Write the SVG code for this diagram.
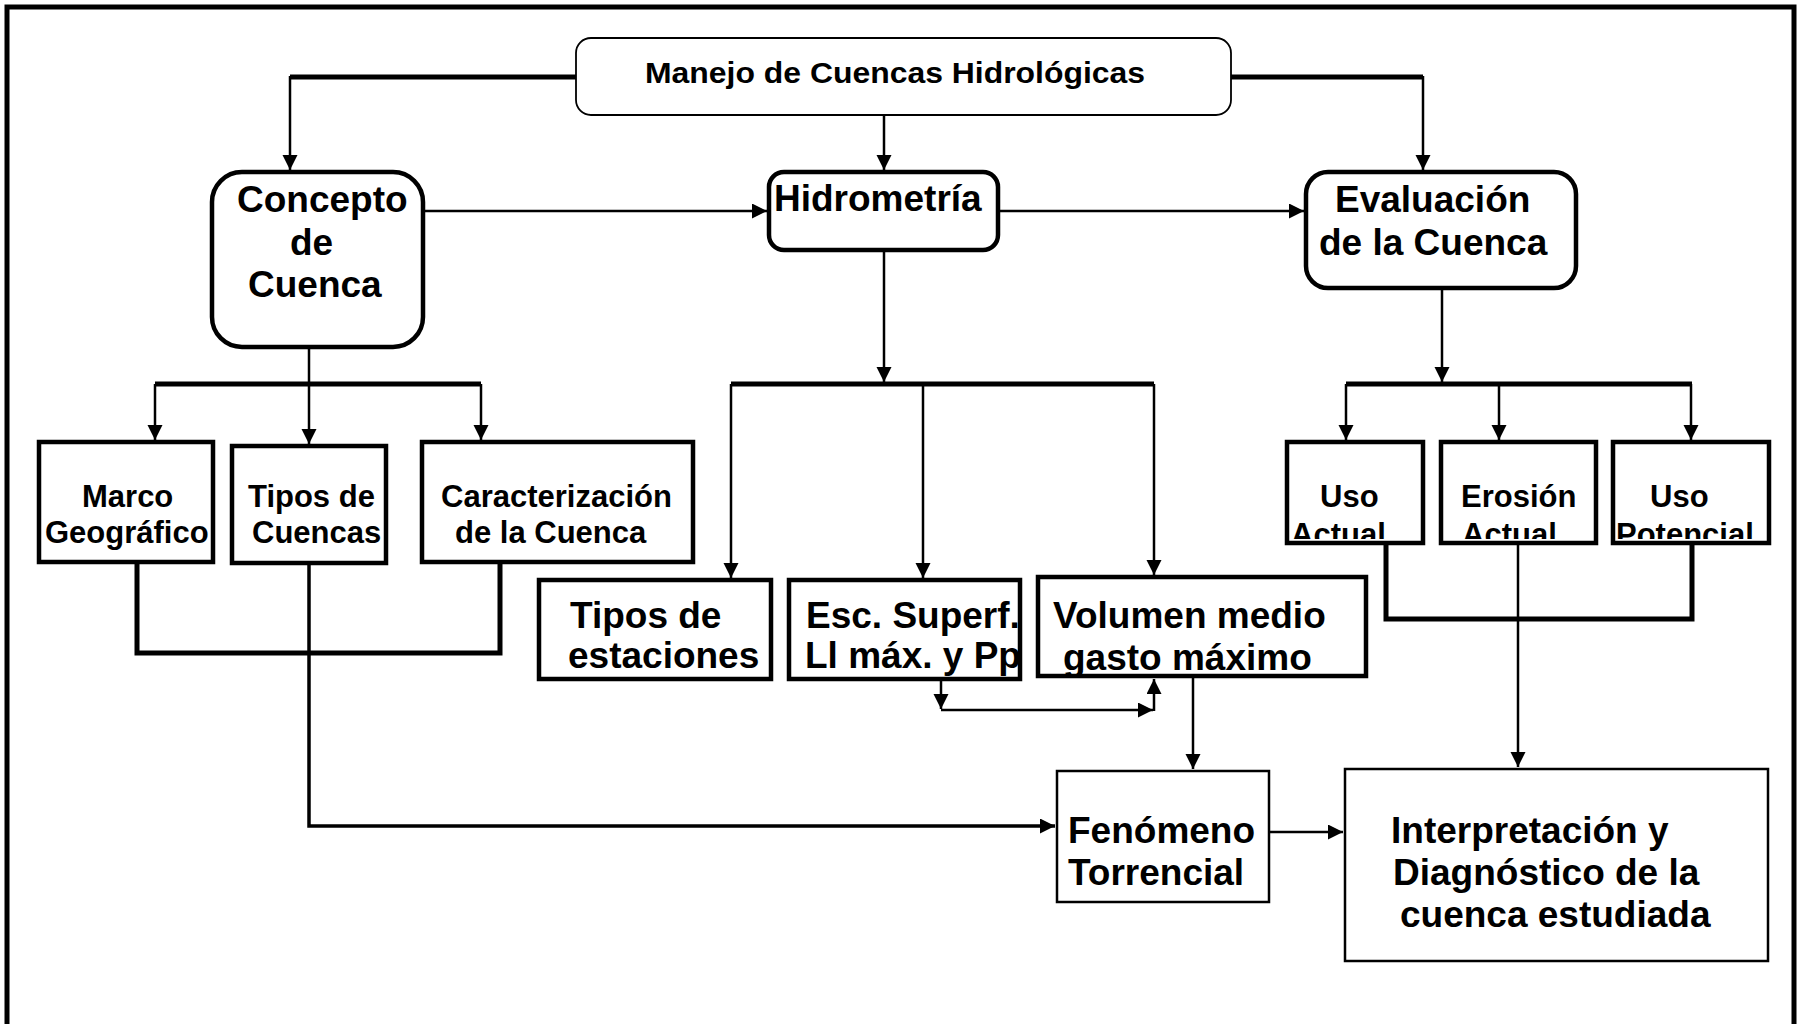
<svg xmlns="http://www.w3.org/2000/svg" width="1807" height="1024" viewBox="0 0 1807 1024">
<style>
.t{font-family:"Liberation Sans",Arial,sans-serif;font-weight:bold;fill:#000}
.s37{font-size:37px}.s31{font-size:31px}
.bx{fill:#fff;stroke:#000;stroke-width:4.5}
.bt{fill:#fff;stroke:#000;stroke-width:2.5}
.c{fill:none;stroke:#000;stroke-width:2.5}
.k{fill:none;stroke:#000;stroke-width:5}
.a{marker-end:url(#ah)}
</style>
<defs>
<marker id="ah" markerUnits="userSpaceOnUse" markerWidth="16" markerHeight="16" refX="15" refY="7.5" orient="auto">
<path d="M0,0 L15,7.5 L0,15 Z" fill="#000"/>
</marker>
<clipPath id="cUA"><rect x="1287" y="442" width="136" height="97"/></clipPath>
<clipPath id="cEA"><rect x="1441" y="442" width="155" height="97"/></clipPath>
<clipPath id="cUP"><rect x="1613" y="442" width="156" height="97"/></clipPath>
<clipPath id="cES"><rect x="789" y="580" width="229" height="97"/></clipPath>
</defs>
<rect x="0" y="0" width="1807" height="1024" fill="#fff"/>
<path d="M7,1024 V7 H1794 V1024" fill="none" stroke="#000" stroke-width="5"/>

<g id="n-manejo">
<rect x="576" y="38" width="655" height="77" rx="15" fill="#fff" stroke="#000" stroke-width="1.8"/>
<text class="t" x="645" y="83" font-size="29" textLength="500" lengthAdjust="spacingAndGlyphs">Manejo de Cuencas Hidrológicas</text>
</g>
<g id="n-concepto">
<rect class="bx" x="212" y="172" width="211" height="175" rx="30"/>
<text class="t s37" x="237" y="212">Concepto</text>
<text class="t s37" x="290" y="255">de</text>
<text class="t s37" x="248" y="297">Cuenca</text>
</g>
<g id="n-hidrometria">
<rect class="bx" x="769" y="172" width="229" height="78" rx="15"/>
<text class="t s37" x="774" y="211">Hidrometría</text>
</g>
<g id="n-evaluacion">
<rect class="bx" x="1306" y="172" width="270" height="116" rx="22"/>
<text class="t s37" x="1335" y="212">Evaluación</text>
<text class="t s37" x="1319" y="255">de la Cuenca</text>
</g>
<g id="n-marco">
<rect class="bx" x="39" y="442" width="174" height="120"/>
<text class="t s31" x="82" y="507">Marco</text>
<text class="t s31" x="45" y="543">Geográfico</text>
</g>
<g id="n-tipos-cuencas">
<rect class="bx" x="232" y="446" width="154" height="117"/>
<text class="t s31" x="248" y="507">Tipos de</text>
<text class="t s31" x="252" y="543">Cuencas</text>
</g>
<g id="n-caracterizacion">
<rect class="bx" x="422" y="442" width="271" height="120"/>
<text class="t s31" x="441" y="507">Caracterización</text>
<text class="t s31" x="455" y="543">de la Cuenca</text>
</g>
<g id="n-tipos-estaciones">
<rect class="bx" x="539" y="580" width="232" height="99"/>
<text class="t s37" x="570" y="628">Tipos de</text>
<text class="t s37" x="568" y="668">estaciones</text>
</g>
<g id="n-esc">
<rect class="bx" x="789" y="580" width="231" height="99"/>
<g clip-path="url(#cES)">
<text class="t s37" x="806" y="628">Esc. Superf.</text>
<text class="t s37" x="805" y="668">Ll máx. y Pp</text>
</g>
</g>
<g id="n-volumen">
<rect class="bx" x="1038" y="577" width="328" height="99"/>
<text class="t s37" x="1053" y="628">Volumen medio</text>
<text class="t s37" x="1063" y="670">gasto máximo</text>
</g>
<g id="n-uso-actual">
<rect class="bx" x="1287" y="442" width="136" height="101"/>
<g clip-path="url(#cUA)">
<text class="t s31" x="1320" y="507">Uso</text>
<text class="t s31" x="1291" y="545">Actual</text>
</g>
</g>
<g id="n-erosion">
<rect class="bx" x="1441" y="442" width="155" height="101"/>
<g clip-path="url(#cEA)">
<text class="t s31" x="1461" y="507">Erosión</text>
<text class="t s31" x="1462" y="545">Actual</text>
</g>
</g>
<g id="n-uso-potencial">
<rect class="bx" x="1613" y="442" width="156" height="101"/>
<g clip-path="url(#cUP)">
<text class="t s31" x="1650" y="507">Uso</text>
<text class="t s31" x="1616" y="545">Potencial</text>
</g>
</g>
<g id="n-fenomeno">
<rect class="bt" x="1057" y="771" width="212" height="131"/>
<text class="t s37" x="1068" y="843">Fenómeno</text>
<text class="t s37" x="1068" y="885">Torrencial</text>
</g>
<g id="n-interpretacion">
<rect class="bt" x="1345" y="769" width="423" height="192"/>
<text class="t s37" x="1391" y="843">Interpretación y</text>
<text class="t s37" x="1393" y="885">Diagnóstico de la</text>
<text class="t s37" x="1400" y="927">cuenca estudiada</text>
</g>

<g id="connectors">
<path class="k" d="M576,77 H290"/>
<path class="c a" d="M290,76 V170"/>
<path class="c a" d="M884,115 V170"/>
<path class="k" d="M1231,77 H1423"/>
<path class="c a" d="M1423,76 V170"/>
<path class="c a" d="M423,211 H767"/>
<path class="c a" d="M998,211 H1304"/>
<path class="c" d="M309,347 V384"/>
<path class="k" d="M155,384 H481"/>
<path class="c a" d="M155,384 V440"/>
<path class="c a" d="M309,384 V444"/>
<path class="c a" d="M481,384 V440"/>
<path class="k" d="M137,562 V653 H500 V562"/>
<path class="c a" d="M309,563 V826 H1055" style="stroke-width:3.5"/>
<path class="c a" d="M884,250 V382"/>
<path class="k" d="M731,384 H1154"/>
<path class="c a" d="M731,384 V578"/>
<path class="c a" d="M923,384 V578"/>
<path class="c a" d="M1154,384 V575"/>
<path class="c a" d="M941,679 V709"/>
<path class="c a" d="M941,710 H1153"/>
<path class="c a" d="M1154,711 V679"/>
<path class="c a" d="M1193,676 V769"/>
<path class="c a" d="M1269,832 H1343"/>
<path class="c a" d="M1442,288 V382"/>
<path class="k" d="M1346,384 H1692"/>
<path class="c a" d="M1346,384 V440"/>
<path class="c a" d="M1499,384 V440"/>
<path class="c a" d="M1691,384 V440"/>
<path class="k" d="M1386,543 V619 H1692 V543"/>
<path class="c a" d="M1518,543 V767"/>
</g>
</svg>
